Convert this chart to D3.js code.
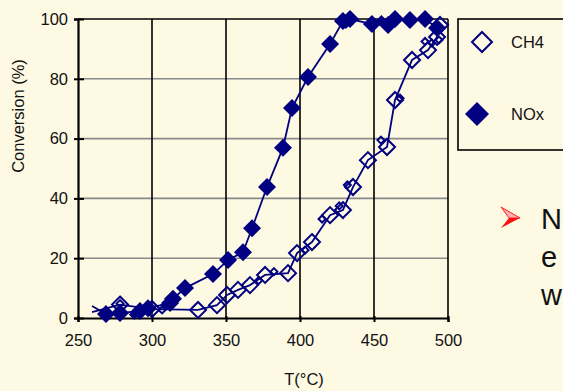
<!DOCTYPE html>
<html><head><meta charset="utf-8">
<script src="https://cdn.jsdelivr.net/npm/d3@7"></script>
<style>body{margin:0;background:#FDF9E3;}svg{display:block;}</style>
</head><body>
<script>
// ---- data ----
const xTicks = [250, 300, 350, 400, 450, 500];
const yTicks = [0, 20, 40, 60, 80, 100];
const noxTemp = [259.5, 268.9, 278.4, 291.9, 297.3, 312.2, 314.2, 322.3, 341.2, 351.4, 361.5, 367.6, 377.7, 388.5, 394.6, 405.4, 420.3, 429, 433.8, 448.6, 459.5, 464.2, 474.3, 484.5, 492.6];
const noxConv = [4, 1.3, 1.7, 2.3, 3.3, 5, 6.4, 10, 14.7, 19.4, 22, 30, 43.8, 56.9, 70.2, 80.6, 91.6, 99.3, 100, 98.3, 98, 100, 99.7, 100, 97];
const noxMinorTemp = [278.4, 288, 309, 431, 455, 475, 483.5, 493];
const noxMinorConv = [1.7, 1.2, 4.3, 98.5, 99.5, 100, 100, 96];
const ch4Temp = [259.5, 278.4, 300, 331.1, 343.9, 350.7, 358.1, 366.2, 376.4, 391.9, 398, 408.1, 420.3, 429, 435.8, 445.9, 458.8, 464.2, 475.7, 486.5, 492.6, 494.6];
const ch4Conv = [2, 4.5, 3, 2.7, 4.3, 7.7, 9.4, 11, 14.4, 15, 21.7, 25.4, 34.4, 36.1, 43.8, 52.8, 57.2, 72.9, 86.3, 89.6, 94, 98];
const ch4MinorTemp = [278.4, 306.8, 311, 372, 382.4, 403.4, 414.9, 426.5, 432, 454.7, 467.6, 484.5, 489, 493.9];
const ch4MinorConv = [4.8, 2.7, 4.5, 12.5, 15.5, 22.7, 33.1, 37.5, 44.5, 59.5, 73.5, 92.5, 92, 93];
const legendLabels = ["CH4", "NOx"];
const slideLetters = ["N", "e", "w"];

// ---- chart ----
const W = 563, H = 391;
const svg = d3.select("body").append("svg").attr("width", W).attr("height", H);
svg.append("rect").attr("width", W).attr("height", H).attr("fill", "#FDF9E3");
const x = d3.scaleLinear().domain([250, 500]).range([78, 448]);
const y = d3.scaleLinear().domain([0, 100]).range([318, 19]);
const font = "'Liberation Sans', Arial, sans-serif";
const navy = "#000080";
const fs = 16.5;

// horizontal gray grid
svg.append("g").selectAll("line").data(yTicks.filter(d => d > 0 && d < 100)).join("line")
  .attr("x1", x(250)).attr("x2", x(500)).attr("y1", d => y(d)).attr("y2", d => y(d))
  .attr("stroke", "#8a8a8a").attr("stroke-width", 1.6);
// vertical black grid
svg.append("g").selectAll("line").data(xTicks.filter(d => d > 250 && d < 500)).join("line")
  .attr("y1", y(0)).attr("y2", y(100)).attr("x1", d => x(d)).attr("x2", d => x(d))
  .attr("stroke", "#000").attr("stroke-width", 1.6);
// frame top/right
svg.append("line").attr("x1", x(250)).attr("x2", x(500)).attr("y1", y(100)).attr("y2", y(100)).attr("stroke", "#000").attr("stroke-width", 1.6);
svg.append("line").attr("x1", x(500)).attr("x2", x(500)).attr("y1", y(0)).attr("y2", y(100)).attr("stroke", "#000").attr("stroke-width", 1.6);

// axes
const yAxis = d3.axisLeft(y).tickValues(yTicks).tickSize(4).tickPadding(6);
const gy = svg.append("g").attr("transform", `translate(${x(250)},0)`).call(yAxis);
const xAxis = d3.axisBottom(x).tickValues(xTicks).tickSize(4).tickPadding(12);
const gx = svg.append("g").attr("transform", `translate(0,${y(0)})`).call(xAxis);
[gx, gy].forEach(g => {
  g.select(".domain").attr("stroke", "#000").attr("stroke-width", 2.2);
  g.selectAll(".tick line").attr("stroke", "#000").attr("stroke-width", 2);
  g.selectAll("text").attr("font-family", font).attr("font-size", fs).attr("fill", "#111");
});
gy.selectAll(".tick line").attr("x2", -4).attr("x1", 6);
gx.selectAll(".tick line").attr("y1", -2).attr("y2", 4);

svg.append("text").attr("x", 304).attr("y", 385).attr("text-anchor", "middle")
  .attr("font-family", font).attr("font-size", fs).attr("fill", "#111").text("T(°C)");
svg.append("text").attr("transform", "translate(24,116) rotate(-90)").attr("text-anchor", "middle")
  .attr("font-family", font).attr("font-size", fs).attr("fill", "#111").text("Conversion (%)");

function diamond(s) { return `M0,${-s}L${s},0L0,${s}L${-s},0Z`; }
const line = d3.line().x(d => x(d[0])).y(d => y(d[1]));

// CH4 series
const ch4 = ch4Temp.map((t, i) => [t, ch4Conv[i]]);
svg.append("path").attr("d", line(ch4)).attr("fill", "none").attr("stroke", navy).attr("stroke-width", 1.8);
svg.append("g").selectAll("path").data(ch4.slice(1)).join("path")
  .attr("transform", d => `translate(${x(d[0])},${y(d[1])})`).attr("d", diamond(8))
  .attr("fill", "none").attr("stroke", navy).attr("stroke-width", 2);
const ch4m = ch4MinorTemp.map((t, i) => [t, ch4MinorConv[i]]);
svg.append("g").selectAll("path").data(ch4m).join("path")
  .attr("transform", d => `translate(${x(d[0])},${y(d[1])})`).attr("d", diamond(3.5))
  .attr("fill", "none").attr("stroke", navy).attr("stroke-width", 2);

// NOx series
const nox = noxTemp.map((t, i) => [t, noxConv[i]]);
svg.append("path").attr("d", line(nox)).attr("fill", "none").attr("stroke", navy).attr("stroke-width", 1.8);
svg.append("g").selectAll("path").data(nox.slice(1)).join("path")
  .attr("transform", d => `translate(${x(d[0])},${y(d[1])})`).attr("d", diamond(9))
  .attr("fill", navy);
const noxm = noxMinorTemp.map((t, i) => [t, noxMinorConv[i]]);
svg.append("g").selectAll("path").data(noxm).join("path")
  .attr("transform", d => `translate(${x(d[0])},${y(d[1])})`).attr("d", diamond(5.5))
  .attr("fill", navy);

// legend
svg.append("rect").attr("x", 458).attr("y", 19).attr("width", 120).attr("height", 131)
  .attr("fill", "#FDF9E3").attr("stroke", "#000").attr("stroke-width", 1.6);
svg.append("path").attr("transform", "translate(482,42)").attr("d", diamond(10))
  .attr("fill", "none").attr("stroke", navy).attr("stroke-width", 2);
svg.append("path").attr("transform", "translate(477,114)").attr("d", diamond(12)).attr("fill", navy);
svg.append("g").selectAll("text").data(legendLabels).join("text")
  .attr("x", 511).attr("y", (d, i) => i === 0 ? 47.5 : 119.5)
  .attr("font-family", font).attr("font-size", fs).attr("fill", "#111").text(d => d);

// slide remnants: arrow and text
svg.append("path").attr("d", "M501,207L520,218L509,218Z").attr("fill", "#ffb0b0").attr("stroke", "#ff2020").attr("stroke-width", 1);
svg.append("path").attr("d", "M520,218L501,228L509,218Z").attr("fill", "#ff1010");
svg.append("g").selectAll("text").data(slideLetters).join("text")
  .attr("x", 541).attr("y", (d, i) => 229 + i * 38)
  .attr("font-family", font).attr("font-size", 29).attr("fill", "#111").text(d => d);
</script>
</body></html>
